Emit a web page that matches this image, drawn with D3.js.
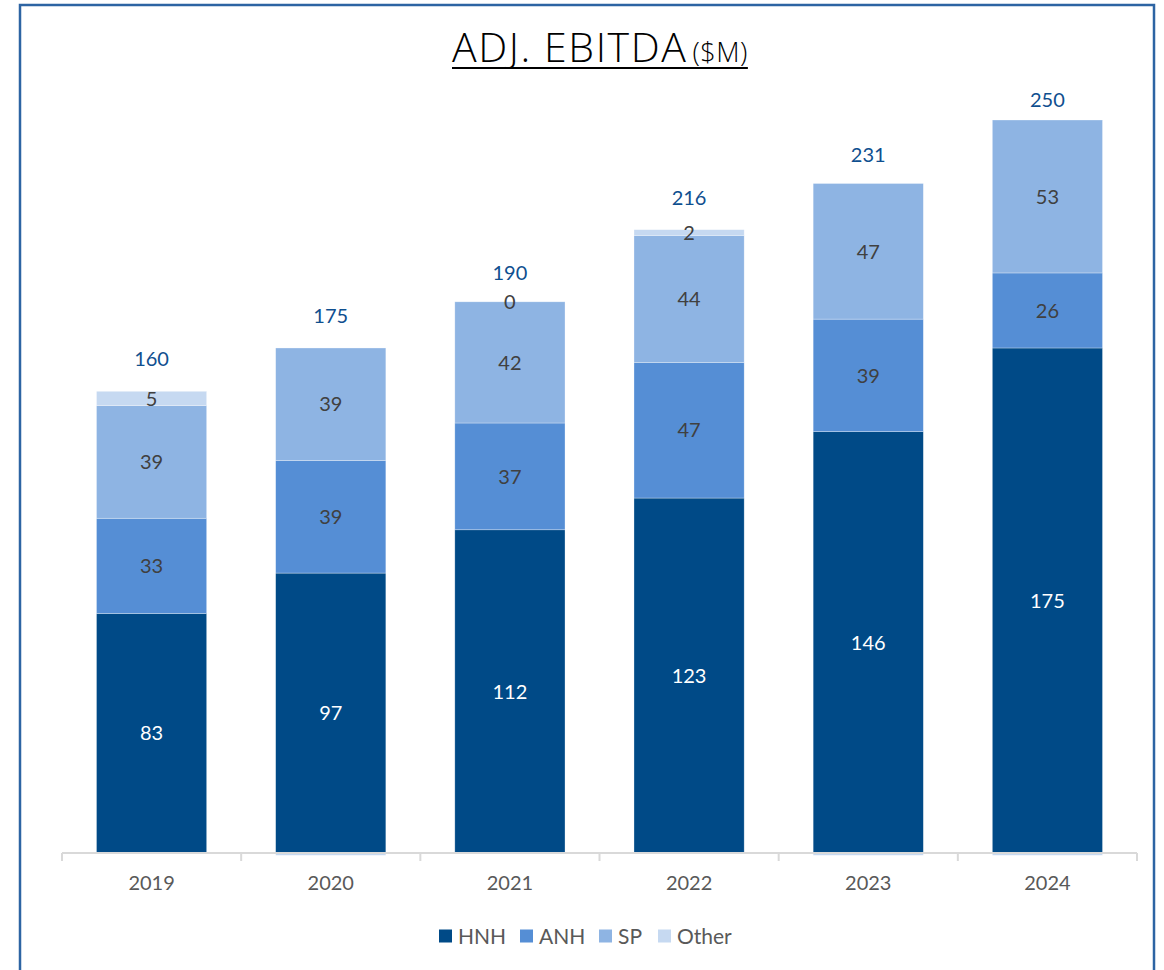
<!DOCTYPE html>
<html>
<head>
<meta charset="utf-8">
<script src="https://cdn.jsdelivr.net/npm/d3@7"></script>
<style>
  html, body { margin: 0; padding: 0; background: #fff; }
  svg { display: block; }
</style>
</head>
<body>
<div id="chart"></div>
<script>
const years = ["2019", "2020", "2021", "2022", "2023", "2024"];
const seriesNames = ["HNH", "ANH", "SP", "Other"];
const hnh = [83, 97, 112, 123, 146, 175];
const anh = [33, 39, 37, 47, 39, 26];
const sp = [39, 39, 42, 44, 47, 53];
const other = [5, -0.8, 0, 2, -0.8, -0.8];
const otherShown = [true, false, true, true, false, false];
const totals = [160, 175, 190, 216, 231, 250];

const colors = { HNH: "#004a87", ANH: "#558ed5", SP: "#8eb4e3", Other: "#c6d9f1" };
const fontFamily = "Lato, 'Open Sans', sans-serif";

const size = { width: 1164, height: 970 };
const margin = { top: 120, right: 27, bottom: 117, left: 62 };
const innerWidth = size.width - margin.left - margin.right;
const innerHeight = size.height - margin.top - margin.bottom;

const rows = years.map((year, i) => ({
  year, HNH: hnh[i], ANH: anh[i], SP: sp[i], Other: other[i], total: totals[i], i
}));

const svg = d3.select("#chart")
  .append("svg")
  .attr("width", size.width)
  .attr("height", size.height);

// frame
svg.append("rect")
  .attr("x", 20).attr("y", 5)
  .attr("width", 1134).attr("height", 1000)
  .attr("fill", "none")
  .attr("stroke", "#2d64a3")
  .attr("stroke-width", 2.5);

const g = svg.append("g").attr("transform", `translate(${margin.left},${margin.top})`);

const xScale = d3.scaleBand().domain(years).range([0, innerWidth]).paddingInner(0.385).paddingOuter(0.1925);
const yScale = d3.scaleLinear().domain([0, 254]).range([innerHeight, 0]);

// stack with positive/negative handling
const stack = d3.stack().keys(seriesNames).offset(d3.stackOffsetDiverging);
const layers = stack(rows);

const layerGroups = g.selectAll("g.layer")
  .data(layers)
  .join("g")
  .attr("class", "layer")
  .attr("fill", (d) => colors[d.key]);

layerGroups.selectAll("rect")
  .data((d) => d)
  .join("rect")
  .attr("x", (d) => xScale(d.data.year))
  .attr("width", xScale.bandwidth())
  .attr("y", (d) => yScale(Math.max(d[0], d[1])))
  .attr("height", (d) => Math.abs(yScale(d[0]) - yScale(d[1])))
  .attr("stroke", "#fff")
  .attr("stroke-opacity", 0.5)
  .attr("stroke-width", 0.6);

// segment labels (cumulative from the bottom so zero values sit on top)
const labelMid = (d, key) => {
  const idx = seriesNames.indexOf(key);
  const below = d3.sum(seriesNames.slice(0, idx), (k) => Math.max(0, d[k]));
  return below + Math.max(0, d[key]) / 2;
};

layerGroups.each(function (layer) {
  d3.select(this).selectAll("text")
    .data(layer.filter((d) => layer.key !== "Other" || otherShown[d.data.i]))
    .join("text")
    .attr("x", (d) => xScale(d.data.year) + xScale.bandwidth() / 2)
    .attr("y", (d) => yScale(labelMid(d.data, layer.key)))
    .attr("dy", "0.36em")
    .attr("text-anchor", "middle")
    .attr("font-family", fontFamily)
    .attr("font-size", 20)
    .attr("fill", layer.key === "HNH" ? "#ffffff" : "#404040")
    .text((d) => d.data[layer.key]);
});

// totals
g.selectAll("text.total")
  .data(rows)
  .join("text")
  .attr("class", "total")
  .attr("x", (d) => xScale(d.year) + xScale.bandwidth() / 2)
  .attr("y", (d) => yScale(d.total) - 32)
  .attr("dy", "0.36em")
  .attr("text-anchor", "middle")
  .attr("font-family", fontFamily)
  .attr("font-size", 20)
  .attr("fill", "#0f4f8f")
  .text((d) => d.total);

// x axis
const xAxis = d3.axisBottom(xScale).tickSize(0).tickPadding(23);
const axisG = g.append("g")
  .attr("transform", `translate(0,${innerHeight})`)
  .call(xAxis);
axisG.select(".domain").remove();
axisG.selectAll("text")
  .attr("font-family", fontFamily)
  .attr("font-size", 20)
  .attr("fill", "#595959");

axisG.append("line")
  .attr("x1", 0).attr("x2", innerWidth)
  .attr("stroke", "#d9d9d9").attr("stroke-width", 2);

// category boundary ticks
const step = xScale.step();
axisG.selectAll("line.boundary")
  .data(d3.range(years.length + 1))
  .join("line")
  .attr("class", "boundary")
  .attr("x1", (d) => d * step).attr("x2", (d) => d * step)
  .attr("y1", 0).attr("y2", 8)
  .attr("stroke", "#d9d9d9").attr("stroke-width", 2);

// title
const title = svg.append("text")
  .attr("x", 452).attr("y", 62)
  .attr("font-family", "'Open Sans', sans-serif")
  .attr("font-weight", 300);
title.append("tspan").attr("font-size", 41).attr("letter-spacing", 1.6).attr("fill", "#000").text("ADJ. EBITDA");
title.append("tspan").attr("font-size", 27).attr("dx", 5).attr("letter-spacing", 0.5).attr("fill", "#000").text("($M)");
const tb = title.node().getBBox();
svg.append("line")
  .attr("x1", tb.x).attr("x2", tb.x + tb.width)
  .attr("y1", 68).attr("y2", 68)
  .attr("stroke", "#000").attr("stroke-width", 2);

// legend
const legendX = [439, 520, 599, 658];
const legend = svg.append("g").attr("transform", "translate(0,936)");
const items = legend.selectAll("g")
  .data(seriesNames)
  .join("g")
  .attr("transform", (d, i) => `translate(${legendX[i]},0)`);
items.append("rect")
  .attr("x", 0).attr("y", -6.5)
  .attr("width", 13).attr("height", 13)
  .attr("fill", (d) => colors[d]);
items.append("text")
  .attr("x", 19).attr("dy", "0.36em")
  .attr("font-family", fontFamily)
  .attr("font-size", 21)
  .attr("fill", "#595959")
  .text((d) => d);
</script>
</body>
</html>
